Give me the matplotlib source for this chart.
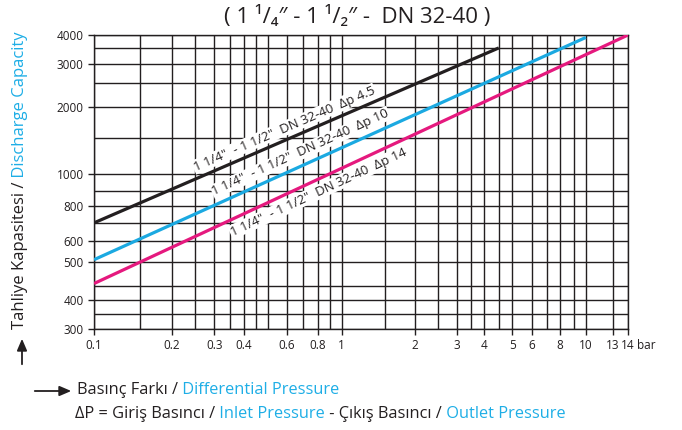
import numpy as np
import matplotlib
matplotlib.use('Agg')
import matplotlib.pyplot as plt
from matplotlib.ticker import NullFormatter

# --- chart data ---
pressure_ticks = [0.1, 0.2, 0.3, 0.4, 0.6, 0.8, 1, 2, 3, 4, 5, 6, 8, 10, 13, 14]
pressure_labels = ['0.1', '0.2', '0.3', '0.4', '0.6', '0.8', '1', '2', '3', '4',
                   '5', '6', '8', '10', '13', '14']
pressure_minor = [0.15, 0.25, 0.35, 0.45, 0.5, 0.7, 0.9, 1.5, 2.5, 3.5, 4.5, 7, 9]

capacity_ticks = [300, 400, 500, 600, 800, 1000, 2000, 3000, 4000]
capacity_labels = ['300', '400', '500', '600', '800', '1000', '2000', '3000', '4000']
capacity_minor = [350, 450, 700, 900, 1500, 2500, 3500]

series_names = ['1 1/4"  - 1 1/2"  DN 32-40  \u0394p 4.5',
                '1 1/4"  - 1 1/2"  DN 32-40  \u0394p 10',
                '1 1/4"  - 1 1/2"  DN 32-40  \u0394p 14']
series_dp = [[0.1, 4.5], [0.1, 10], [0.1, 14]]
series_cap = [[700, 3500], [510, 3900], [455, 4000]]

# --- styling ---
dark = '#231f20'
cyan = '#1eaee6'
series_colors = [dark, '#1ba9e1', '#e5197e']
# where along each line the label sits, and its vertical shift in pixels
label_t = [0.47, 0.42, 0.42]
label_shift = [12, 14, -13]

# the printed grid is not a true log grid: scale follows the printed spacing
x_anchor = [0.1, 0.2, 0.3, 0.4, 0.6, 0.8, 1, 2, 3, 4, 5, 6, 8, 10, 13, 14]
x_anchor_pos = [0, 0.146, 0.225, 0.281, 0.361, 0.419, 0.464, 0.601, 0.680,
                0.730, 0.783, 0.820, 0.873, 0.921, 0.972, 1]
y_anchor = [300, 350, 400, 450, 500, 600, 700, 800, 900, 1000, 1500, 2000,
            2500, 3000, 3500, 4000]
y_anchor_pos = [0, 0.051, 0.099, 0.146, 0.228, 0.299, 0.361, 0.418, 0.469,
                0.527, 0.650, 0.755, 0.837, 0.901, 0.956, 1]


def warped_log(anchor, pos):
    la = np.log10(anchor)
    pos = np.asarray(pos, float)
    s0 = (pos[1] - pos[0]) / (la[1] - la[0])
    s1 = (pos[-1] - pos[-2]) / (la[-1] - la[-2])
    la = np.concatenate([[la[0] - 10], la, [la[-1] + 10]])
    pos = np.concatenate([[pos[0] - 10 * s0], pos, [pos[-1] + 10 * s1]])

    def fwd(v):
        v = np.maximum(np.asarray(v, float), 1e-9)
        return np.interp(np.log10(v), la, pos)

    def inv(p):
        return 10 ** np.interp(np.asarray(p, float), pos, la)
    return fwd, inv


plt.rcParams['font.family'] = ['Open Sans', 'DejaVu Sans']

W, H = 682, 430
fig = plt.figure(figsize=(W / 100, H / 100), dpi=100)
ax = fig.add_axes([94 / W, 101 / H, 534 / W, 294 / H])

ax.set_xscale('function', functions=warped_log(x_anchor, x_anchor_pos))
ax.set_yscale('function', functions=warped_log(y_anchor, y_anchor_pos))
ax.set_xlim(0.1, 14)
ax.set_ylim(300, 4000)

ax.set_xticks(pressure_ticks, pressure_labels)
ax.set_xticks(pressure_minor, minor=True)
ax.set_yticks(capacity_ticks, capacity_labels)
ax.set_yticks(capacity_minor, minor=True)
ax.xaxis.set_minor_formatter(NullFormatter())
ax.yaxis.set_minor_formatter(NullFormatter())

ax.grid(True, which='both', color=dark, lw=1.0)
ax.tick_params(which='major', length=4.5, width=1.0, pad=3, labelsize=8.5,
               colors=dark)
ax.tick_params(which='minor', length=0)
for sp in ax.spines.values():
    sp.set_color(dark)
    sp.set_linewidth(1.0)

for dp, cap, col in zip(series_dp, series_cap, series_colors):
    ax.plot(dp, cap, color=col, lw=2.3, solid_capstyle='butt', zorder=3)

# labels run along the lines
for name, dp, cap, t, shift in zip(series_names, series_dp, series_cap,
                                   label_t, label_shift):
    p = ax.transData.transform(np.column_stack([dp, cap]))
    ang = np.degrees(np.arctan2(p[1, 1] - p[0, 1], p[1, 0] - p[0, 0]))
    c = p[0] + t * (p[1] - p[0]) + np.array([0, shift])
    xy = ax.transData.inverted().transform(c)
    ax.text(xy[0], xy[1], name, rotation=ang, rotation_mode='anchor',
            ha='center', va='center', fontsize=9.5, color=dark, zorder=4,
            bbox=dict(fc='white', ec='none', pad=0.6))

ax.annotate('bar', xy=(1, 0), xycoords='axes fraction', xytext=(6.5, -7.5),
            textcoords='offset points', ha='left', va='top', fontsize=8.5,
            color=dark)

fig.text(357 / W, 1 - 17 / H, '( 1 \u00b9/\u2084\u2033 - 1 \u00b9/\u2082\u2033 -  DN 32-40 )',
         ha='center', va='center', fontsize=16, color=dark)

# y title, two colours, reading upward
t1 = fig.text(20 / W, 1 - 329 / H, 'Tahliye Kapasitesi /', rotation=90,
              ha='center', va='bottom', fontsize=12, color=dark)
ax.annotate(' Discharge Capacity', xy=(0.5, 1), xycoords=t1, rotation=90,
            ha='center', va='bottom', fontsize=12, color=cyan)
ax.annotate('', xy=(22 / W, 1 - 336 / H), xytext=(22 / W, 1 - 367 / H),
            xycoords='figure fraction',
            arrowprops=dict(arrowstyle='-|>,head_length=0.7,head_width=0.3',
                            color=dark, lw=1.3))

# x title lines
ax.annotate('', xy=(74 / W, 1 - 391 / H), xytext=(32 / W, 1 - 391 / H),
            xycoords='figure fraction',
            arrowprops=dict(arrowstyle='-|>,head_length=0.7,head_width=0.3',
                            color=dark, lw=1.3))


def colour_line(x, y, parts):
    prev = fig.text(x, y, parts[0][0], color=parts[0][1], fontsize=11.8,
                    ha='left', va='center')
    for s, c in parts[1:]:
        prev = ax.annotate(s, xy=(1, 0), xycoords=prev, ha='left',
                           va='bottom', fontsize=11.8, color=c)


colour_line(77 / W, 1 - 390 / H,
            [('Basınç Farkı /', dark), (' Differential Pressure', cyan)])
colour_line(75 / W, 1 - 414 / H,
            [('\u0394P = Giriş Basıncı /', dark), (' Inlet Pressure', cyan),
             (' - Çıkış Basıncı /', dark), (' Outlet Pressure', cyan)])

fig.savefig('out.png', dpi=100)
